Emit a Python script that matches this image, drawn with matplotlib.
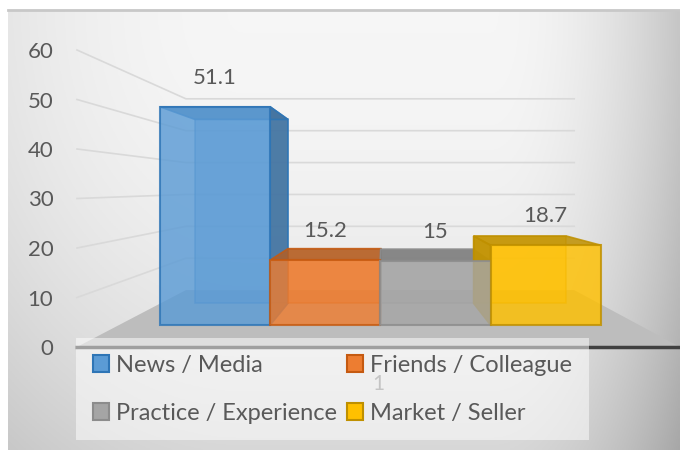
import numpy as np
import matplotlib.pyplot as plt
from matplotlib.patches import Polygon, Patch

# data
categories = ['News / Media', 'Friends / Colleague', 'Practice / Experience', 'Market / Seller']
values = [51.1, 15.2, 15, 18.7]
value_labels = ['51.1', '15.2', '15', '18.7']
yticks = [0, 10, 20, 30, 40, 50, 60]

face = ['#5B9BD5', '#ED7D31', '#A5A5A5', '#FFC000']
edge = ['#2E75B6', '#C55A11', '#8C8C8C', '#BF9000']
txt = '#595959'

plt.rcParams['font.family'] = ['Lato', 'DejaVu Sans']

fig = plt.figure(figsize=(6.8, 4.5), dpi=100)
fig.patch.set_facecolor('white')

# background panel with soft gradient
bg = fig.add_axes([8 / 680, 0, 672 / 680, 440 / 450])
gx, gy = np.meshgrid(np.linspace(0, 1, 300), np.linspace(1, 0, 200))
shade = 0.965 - 2.4 * np.clip(gx - 0.72, 0, None) ** 2 - 0.12 * (1 - gy) ** 2 \
    - 0.5 * np.clip(0.35 - gx, 0, None) ** 2
bg.imshow(np.dstack([shade] * 3), aspect='auto', extent=[0, 1, 0, 1])
bg.axis('off')
fig.add_artist(plt.Line2D([8 / 680, 1], [1 - 10 / 450] * 2, color='#c8c8c8', lw=2))

ax = fig.add_axes([77 / 680, 1 - 347 / 450, 603 / 680, 297 / 450])
ax.patch.set_visible(False)
xmax = 603 / 4.95
ax.set_xlim(0, xmax)
ax.set_ylim(0, 60)
for s in ax.spines.values():
    s.set_visible(False)
ax.set_xticks([])
ax.set_yticks(yticks)
ax.tick_params(axis='y', length=0, pad=17, labelsize=16, labelcolor=txt)

# simple one-point perspective
vx, vy = 61.8, 32.3
k_wall, k_front, k_back = 0.644, 0.863, 0.727


def P(x, y, k):
    return (vx + k * (x - vx), vy + k * (y - vy))


def poly(pts, **kw):
    ax.add_patch(Polygon([P(*p) for p in pts], closed=True, clip_on=False, **kw))


# gridlines on side and back wall
for v in yticks[1:]:
    a, b, c = P(0, v, 1), P(0, v, k_wall), P(xmax, v, k_wall)
    ax.plot([a[0], b[0], c[0]], [a[1], b[1], c[1]], color='#d9d9d9', lw=1.2, clip_on=False, zorder=1)

# floor
poly([(0, 0, 1), (xmax, 0, 1), (xmax, 0, k_wall), (0, 0, k_wall)], fc='#bdbdbd', ec='none', zorder=2)
ax.axhline(0, color='#404040', lw=2.5, zorder=3, clip_on=False)

x0, w = 9.6, 25.8
for i, v in enumerate(values):
    xl, xr = x0 + i * w, x0 + (i + 1) * w
    dark = tuple(c * 0.75 for c in plt.matplotlib.colors.to_rgb(face[i]))
    style = dict(ec=edge[i], lw=1.2, zorder=4)
    poly([(xl, 0, k_back), (xr, 0, k_back), (xr, v, k_back), (xl, v, k_back)], fc=face[i], alpha=0.5, **style)
    side_x = xr if xr < vx else xl
    poly([(side_x, 0, k_front), (side_x, v, k_front), (side_x, v, k_back), (side_x, 0, k_back)],
         fc=dark, alpha=0.9, **style)
    poly([(xl, v, k_front), (xr, v, k_front), (xr, v, k_back), (xl, v, k_back)], fc=dark, alpha=0.85, **style)
for i, v in enumerate(values):
    xl, xr = x0 + i * w, x0 + (i + 1) * w
    poly([(xl, 0, k_front), (xr, 0, k_front), (xr, v, k_front), (xl, v, k_front)],
         fc=face[i], alpha=0.82, ec=edge[i], lw=1.5, zorder=5)
    ax.annotate(value_labels[i], P((xl + xr) / 2, v, k_front), xytext=(0, 21), textcoords='offset points',
                ha='center', va='center', fontsize=16, color=txt, zorder=6)

ax.text(0.5, -37 / 297, '1', transform=ax.transAxes, ha='center', va='center',
        fontsize=15, color='#8a8a8a', zorder=6)

# legend is filled column by column, so reorder to read row by row
order = [0, 2, 1, 3]
handles = [Patch(facecolor=face[i], edgecolor=edge[i], lw=1.5) for i in order]
leg = fig.legend(handles, [categories[i] for i in order], ncol=2, loc='upper left',
                 bbox_to_anchor=(76 / 680, 1 - 338 / 450), fontsize=17, frameon=True,
                 fancybox=False, handlelength=0.7, handleheight=0.7, handletextpad=0.3,
                 columnspacing=0.4, labelspacing=1.15, borderpad=0.7, borderaxespad=0)
leg.get_frame().set_facecolor('white')
leg.get_frame().set_alpha(0.5)
leg.get_frame().set_edgecolor('none')
for t in leg.get_texts():
    t.set_color(txt)

fig.savefig('out.png', dpi=100)
